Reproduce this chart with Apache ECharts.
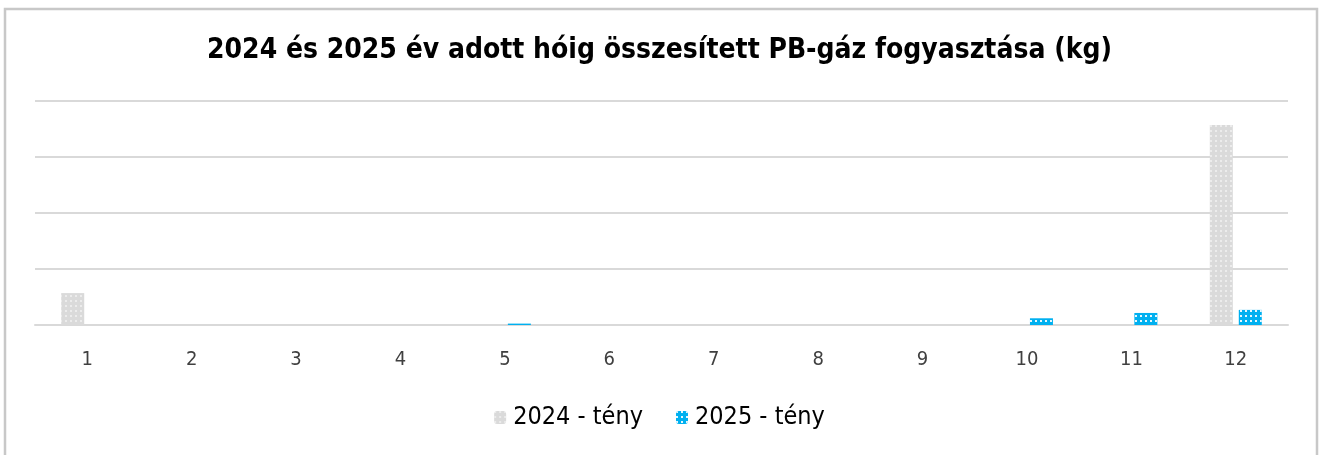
<!DOCTYPE html>
<html lang="hu">

<head>
  <meta charset="UTF-8">
  <title>PB-gáz fogyasztás</title>
  <style>
    html,
    body {
      width: 100%;
      height: 100%;
      padding: 0;
      margin: 0;
      background: #fff;
    }

    #eChart {
      width: 1319px;
      height: 455px;
    }
  </style>
</head>

<body>
  <div id="eChart"></div>

  <script src="https://cdn.jsdelivr.net/npm/echarts@6/dist/echarts.min.js"></script>
  <script>
    var months = ['1', '2', '3', '4', '5', '6', '7', '8', '9', '10', '11', '12'];
    // összesített fogyasztás (kg), a képről becsülve
    var teny2024 = [570, 0, 0, 0, 0, 0, 0, 0, 0, 0, 0, 3570];
    var teny2025 = [0, 0, 0, 0, 25, 0, 0, 0, 0, 120, 215, 270];

    var font = '"DejaVu Sans Condensed", "Liberation Sans Narrow", sans-serif';

    var myChart = echarts.init(document.getElementById('eChart'));

    myChart.setOption({
      animation: false,
      textStyle: { fontFamily: font },
      title: {
        text: '2024 és 2025 év adott hóig összesített PB-gáz fogyasztása (kg)',
        left: 'center',
        top: 32,
        textStyle: { fontFamily: font, fontSize: 28, fontWeight: 'bold', color: '#000' }
      },
      legend: {
        bottom: 20,
        left: 'center',
        itemWidth: 12,
        itemHeight: 13,
        itemGap: 33,
        textStyle: { fontFamily: font, fontSize: 25, color: '#000', padding: [0, 0, 0, 2] },
        data: ['2024 - tény', '2025 - tény']
      },
      grid: { left: 35, right: 31, top: 101, bottom: 130 },
      xAxis: {
        type: 'category',
        data: months,
        axisTick: { show: false },
        axisLine: { lineStyle: { color: '#d9d9d9', width: 2 } },
        axisLabel: { margin: 25, fontSize: 20, color: '#404040' }
      },
      yAxis: {
        type: 'value',
        min: 0,
        max: 4000,
        interval: 1000,
        axisLabel: { show: false },
        splitLine: { lineStyle: { color: '#d9d9d9', width: 2 } }
      },
      series: [
        {
          name: '2024 - tény',
          type: 'bar',
          data: teny2024,
          barWidth: 23,
          barGap: '26%',
          itemStyle: {
            color: '#dadada',
            decal: {
              symbol: 'rect',
              symbolSize: 0.8,
              color: '#f8f8f8',
              dashArrayX: [[2, 3]],
              dashArrayY: [2, 3],
              rotation: 0
            }
          }
        },
        {
          name: '2025 - tény',
          type: 'bar',
          data: teny2025,
          barWidth: 23,
          itemStyle: {
            color: '#00b0f0',
            decal: {
              symbol: 'rect',
              symbolSize: 0.9,
              color: '#ffffff',
              dashArrayX: [[2, 3]],
              dashArrayY: [2, 3],
              rotation: 0
            }
          }
        }
      ],
      graphic: [
        {
          type: 'rect',
          silent: true,
          shape: { x: 5, y: 9, width: 1312, height: 470 },
          style: { fill: 'none', stroke: '#c8c8c8', lineWidth: 2.5 }
        }
      ]
    });
  </script>
</body>

</html>
